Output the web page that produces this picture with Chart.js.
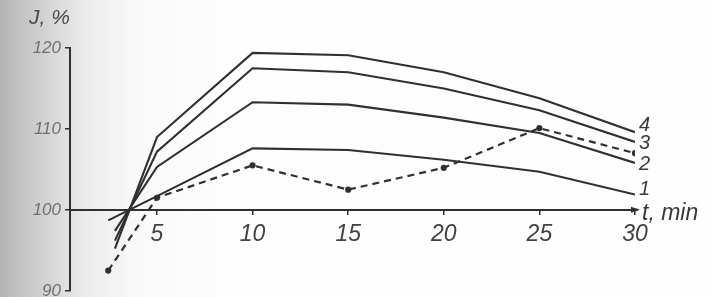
<!DOCTYPE html>
<html>
<head>
<meta charset="utf-8">
<script src="https://cdn.jsdelivr.net/npm/chart.js@4.4.0/dist/chart.umd.min.js"></script>
<style>
html,body{margin:0;padding:0;background:#fdfdfd;}
#wrap{width:713px;height:297px;}
</style>
</head>
<body>
<div id="wrap"><canvas id="c" width="713" height="297"></canvas></div>
<script>
// ---- data ----
const xTicks = [5, 10, 15, 20, 25, 30];
const yTicks = [90, 100, 110, 120];
const seriesNames = ['1', '2', '3', '4'];

const t1 = [2.45, 5, 10, 15, 20, 25, 30];
const v1 = [98.7, 101.7, 107.6, 107.4, 106.2, 104.7, 101.9];
const t2 = [2.8, 5, 10, 15, 20, 25, 30];
const v2 = [97.4, 105.3, 113.3, 113.0, 111.4, 109.5, 105.8];
const t3 = [2.8, 5, 10, 15, 20, 25, 30];
const v3 = [96.2, 107.2, 117.5, 117.0, 115.0, 112.3, 108.4];
const t4 = [2.8, 5, 10, 15, 20, 25, 30];
const v4 = [95.2, 109.0, 119.4, 119.1, 117.0, 113.8, 109.6];
const tD = [2.45, 5, 10, 15, 20, 25, 30];
const vD = [92.5, 101.5, 105.5, 102.5, 105.2, 110.1, 107.0];

const xMin = 0.45, xMax = 30, yMin = 90, yMax = 120;
const xAxisLevel = 100;

const pts = (t, v) => t.map((x, i) => ({x: x, y: v[i]}));
const INK = '#303030';
const FONT = '"Liberation Sans", Arial, sans-serif';

const solid = (name, t, v) => ({
  label: name, data: pts(t, v), borderColor: INK, borderWidth: 2.1,
  pointRadius: 0, showLine: true, tension: 0, fill: false
});

const datasets = [
  solid('1', t1, v1),
  solid('2', t2, v2),
  solid('3', t3, v3),
  solid('4', t4, v4),
  {label: 'dashed', data: pts(tD, vD), borderColor: INK, borderWidth: 2.2,
   borderDash: [7, 5], pointRadius: 2, pointBackgroundColor: INK,
   pointBorderColor: INK, showLine: true, tension: 0, fill: false}
];

const bgPlugin = {
  id: 'bg',
  beforeDraw(chart) {
    const ctx = chart.ctx;
    const g = ctx.createLinearGradient(0, 0, chart.width, 0);
    g.addColorStop(0, '#b4b4b4');
    g.addColorStop(0.028, '#c2c2c2');
    g.addColorStop(0.07, '#d6d6d6');
    g.addColorStop(0.12, '#ebebeb');
    g.addColorStop(0.19, '#f9f9f9');
    g.addColorStop(0.3, '#fdfdfd');
    g.addColorStop(1, '#fefefe');
    ctx.save();
    ctx.fillStyle = g;
    ctx.fillRect(0, 0, chart.width, chart.height);
    ctx.restore();
  }
};

const labelOffsets = [-5, 2, 2, -7];
const annoPlugin = {
  id: 'anno',
  afterDraw(chart) {
    const ctx = chart.ctx;
    const xs = chart.scales.x, ys = chart.scales.y;
    ctx.save();
    // arrow at end of x axis
    const ay = ys.getPixelForValue(xAxisLevel);
    const ax = chart.chartArea.right + 3;
    ctx.fillStyle = INK;
    ctx.beginPath();
    ctx.moveTo(ax + 2, ay);
    ctx.lineTo(ax - 7, ay - 3);
    ctx.lineTo(ax - 7, ay + 3);
    ctx.closePath();
    ctx.fill();
    ctx.strokeStyle = INK; ctx.lineWidth = 2;
    ctx.beginPath(); ctx.moveTo(chart.chartArea.right - 2, ay); ctx.lineTo(ax, ay); ctx.stroke();
    // axis titles
    ctx.fillStyle = '#3a3a3a';
    ctx.font = 'italic 23px ' + FONT;
    ctx.textBaseline = 'middle';
    ctx.textAlign = 'left';
    ctx.fillText('t, min', ax + 4, ay + 4);
    ctx.fillStyle = '#4a4a4a';
    ctx.font = 'italic 21px ' + FONT;
    ctx.fillText('J, %', 29, 18);
    // series labels
    ctx.fillStyle = '#3a3a3a';
    ctx.font = 'italic 20px ' + FONT;
    for (let i = 0; i < 4; i++) {
      const ds = chart.data.datasets[i];
      const last = ds.data[ds.data.length - 1];
      ctx.fillText(seriesNames[i], xs.getPixelForValue(last.x) + 4,
                   ys.getPixelForValue(last.y) + labelOffsets[i]);
    }
    ctx.restore();
  }
};

new Chart(document.getElementById('c'), {
  type: 'scatter',
  data: {datasets: datasets},
  options: {
    responsive: false,
    animation: false,
    events: [],
    layout: {padding: {left: 0, right: 78, top: 48, bottom: 6}},
    plugins: {legend: {display: false}, tooltip: {enabled: false}},
    scales: {
      x: {
        type: 'linear', min: xMin, max: xMax,
        position: {y: xAxisLevel},
        afterBuildTicks: s => { s.ticks = xTicks.map(v => ({value: v})); },
        grid: {display: true, drawOnChartArea: false, drawTicks: true, tickLength: 4,
               color: INK, lineWidth: 1.5},
        border: {display: true, color: INK, width: 2},
        ticks: {color: '#424242', padding: 7, maxRotation: 0,
                font: {family: FONT, size: 23, style: 'italic'}}
      },
      y: {
        type: 'linear', min: yMin, max: yMax,
        afterBuildTicks: s => { s.ticks = yTicks.map(v => ({value: v})); },
        afterFit: s => { s.width = 70; s.paddingTop = 0; s.paddingBottom = 0; },
        grid: {display: true, drawOnChartArea: false, drawTicks: true, tickLength: 5,
               color: INK, lineWidth: 1.5},
        border: {display: true, color: INK, width: 2},
        ticks: {color: '#707070', padding: 4,
                font: {family: FONT, size: 17, style: 'italic'}}
      }
    }
  },
  plugins: [bgPlugin, annoPlugin]
});
</script>
</body>
</html>
